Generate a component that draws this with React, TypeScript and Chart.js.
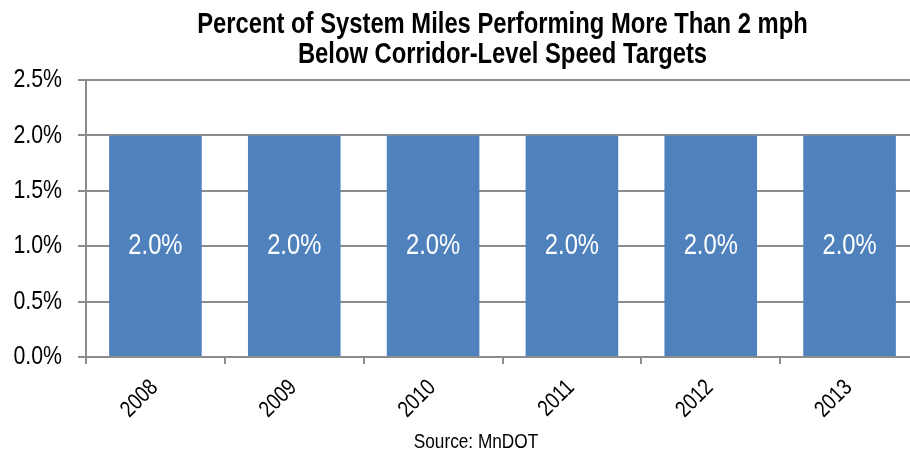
import React, { useEffect, useRef } from "react";
import { Chart, registerables } from "chart.js";

Chart.register(...registerables);

const years = ["2008", "2009", "2010", "2011", "2012", "2013"];
const percentValues = [2.0, 2.0, 2.0, 2.0, 2.0, 2.0];
const titleLines = [
  "Percent of System Miles Performing More Than 2 mph",
  "Below Corridor-Level Speed Targets",
];
const sourceText = "Source: MnDOT";
const yMin = 0;
const yMax = 2.5;
const yStep = 0.5;

const FONT = "'Liberation Sans', Arial, sans-serif";
const NARROW = 0.82;
const BAR = "#4F81BD";
const AXIS = "#8c8c8c";

function narrowText(
  ctx: CanvasRenderingContext2D,
  text: string,
  x: number,
  y: number,
  font: string,
  align: CanvasTextAlign,
  baseline: CanvasTextBaseline,
  rotation = 0
) {
  ctx.save();
  ctx.translate(x, y);
  if (rotation) ctx.rotate(rotation);
  ctx.scale(NARROW, 1);
  ctx.font = font;
  ctx.textAlign = align;
  ctx.textBaseline = baseline;
  ctx.fillText(text, 0, 0);
  ctx.restore();
}

const textPlugin = {
  id: "textPlugin",
  afterDraw(chart: any) {
    const ctx = chart.ctx as CanvasRenderingContext2D;
    const area = chart.chartArea;
    const xs = chart.scales.x;
    const ys = chart.scales.y;
    ctx.save();
    // bar labels
    const meta = chart.getDatasetMeta(0);
    ctx.fillStyle = "#ffffff";
    meta.data.forEach((bar: any, i: number) => {
      const v = chart.data.datasets[0].data[i];
      narrowText(ctx, v.toFixed(1) + "%", bar.x, (bar.y + bar.base) / 2, `29px ${FONT}`, "center", "middle");
    });
    ctx.fillStyle = "#000000";
    // y tick labels
    ys.ticks.forEach((t: any) => {
      const py = ys.getPixelForValue(t.value);
      narrowText(ctx, Number(t.value).toFixed(1) + "%", area.left - 24, py, `26px ${FONT}`, "right", "middle");
    });
    // x tick labels
    years.forEach((lab, i) => {
      const px = xs.getPixelForValue(i);
      narrowText(ctx, lab, px - 1, area.bottom + 27, `23px ${FONT}`, "right", "middle", -Math.PI / 4);
    });
    // title
    const cx = (area.left + area.right) / 2;
    narrowText(ctx, titleLines[0], cx, 33, `bold 29px ${FONT}`, "center", "alphabetic");
    narrowText(ctx, titleLines[1], cx, 63, `bold 29px ${FONT}`, "center", "alphabetic");
    // source
    narrowText(ctx, sourceText, 476, 448, `21px ${FONT}`, "center", "alphabetic");
    ctx.restore();
  },
};

export default function App() {
  const ref = useRef<HTMLCanvasElement>(null);
  useEffect(() => {
    if (!ref.current) return;
    const chart = new Chart(ref.current, {
      type: "bar",
      data: {
        labels: years,
        datasets: [
          {
            data: percentValues,
            backgroundColor: BAR,
            borderWidth: 0,
            barPercentage: 0.667,
            categoryPercentage: 1,
          },
        ],
      },
      options: {
        responsive: false,
        animation: false,
        devicePixelRatio: 1,
        layout: { padding: { top: 80, right: 11, bottom: 0, left: 0 } },
        plugins: {
          legend: { display: false },
          title: { display: false },
          tooltip: { enabled: false },
        },
        scales: {
          x: {
            grid: {
              drawOnChartArea: false,
              drawTicks: true,
              tickLength: 7,
              color: AXIS,
              lineWidth: 2,
            },
            border: { color: AXIS, width: 2 },
            ticks: { display: false },
            afterFit(scale: any) {
              scale.height = 96;
            },
          },
          y: {
            min: yMin,
            max: yMax,
            grid: {
              color: AXIS,
              lineWidth: 2,
              tickLength: 8,
            },
            border: { color: AXIS, width: 2 },
            ticks: { display: false, stepSize: yStep },
            afterFit(scale: any) {
              scale.width = 86;
            },
          },
        },
      },
      plugins: [textPlugin],
    });
    return () => chart.destroy();
  }, []);
  return (
    <div
      style={{
        position: "fixed",
        left: 0,
        top: 0,
        width: 910,
        height: 453,
        overflow: "hidden",
        background: "#fff",
      }}
    >
      <canvas ref={ref} width={930} height={453} style={{ display: "block" }} />
    </div>
  );
}
